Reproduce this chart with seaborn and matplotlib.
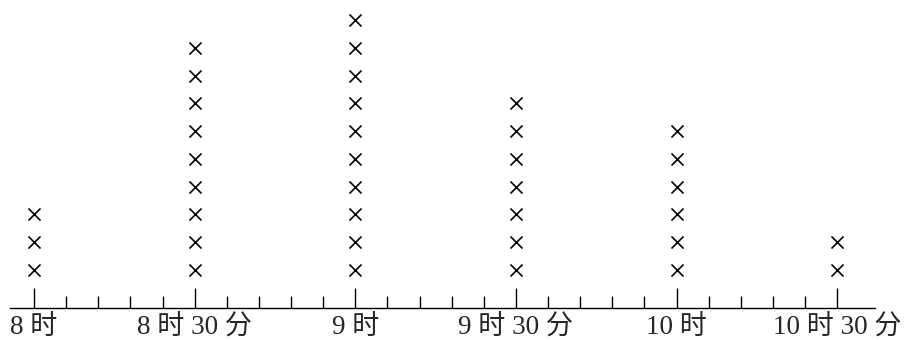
import pandas as pd
import matplotlib
matplotlib.use("Agg")
import matplotlib.pyplot as plt
from matplotlib.ticker import FixedLocator
import seaborn as sns

# data: arrival times (minutes after 8:00) and number of crosses at each
times = [0, 30, 60, 90, 120, 150]
counts = [3, 9, 10, 7, 6, 2]
tick_labels = ["8 时", "8 时 30 分", "9 时", "9 时 30 分", "10 时", "10 时 30 分"]

# one row per cross, stacked upward
rows = [(t, k) for t, c in zip(times, counts) for k in range(1, c + 1)]
df = pd.DataFrame(rows, columns=["time", "level"])

sns.set_style("white")
plt.rcParams["font.family"] = ["Liberation Serif", "Noto Sans CJK SC"]

fig = plt.figure(figsize=(9.1, 3.4), dpi=100)
ax = fig.add_axes([0, 32 / 340, 1, 308 / 340])

sns.scatterplot(data=df, x="time", y="level", marker="x", s=75,
                color="black", linewidth=1.2, ax=ax, legend=False)

ax.set_xlim(-6.35, 163.6)
ax.set_ylim(-0.368, 10.72)

for side in ["top", "left", "right"]:
    ax.spines[side].set_visible(False)
ax.spines["bottom"].set_bounds(-4.5, 157)
ax.spines["bottom"].set_linewidth(1.0)
ax.spines["bottom"].set_color("black")

ax.set_xticks(times)
ax.set_xticklabels(tick_labels, fontsize=19.5,
                   family=["Liberation Serif", "Noto Sans CJK SC"])
# minor ticks every 6 minutes, only between first and last time
minor = [m for m in range(0, times[-1] + 1, 6) if m not in times]
ax.xaxis.set_minor_locator(FixedLocator(minor))
ax.tick_params(axis="x", which="major", direction="in", length=14.4,
               width=1.0, color="black", pad=5, bottom=True)
ax.tick_params(axis="x", which="minor", direction="in", length=8.6,
               width=1.0, color="black", bottom=True)
ax.set_yticks([])
ax.set_xlabel("")
ax.set_ylabel("")

fig.savefig("out.png", dpi=100, facecolor="white")
